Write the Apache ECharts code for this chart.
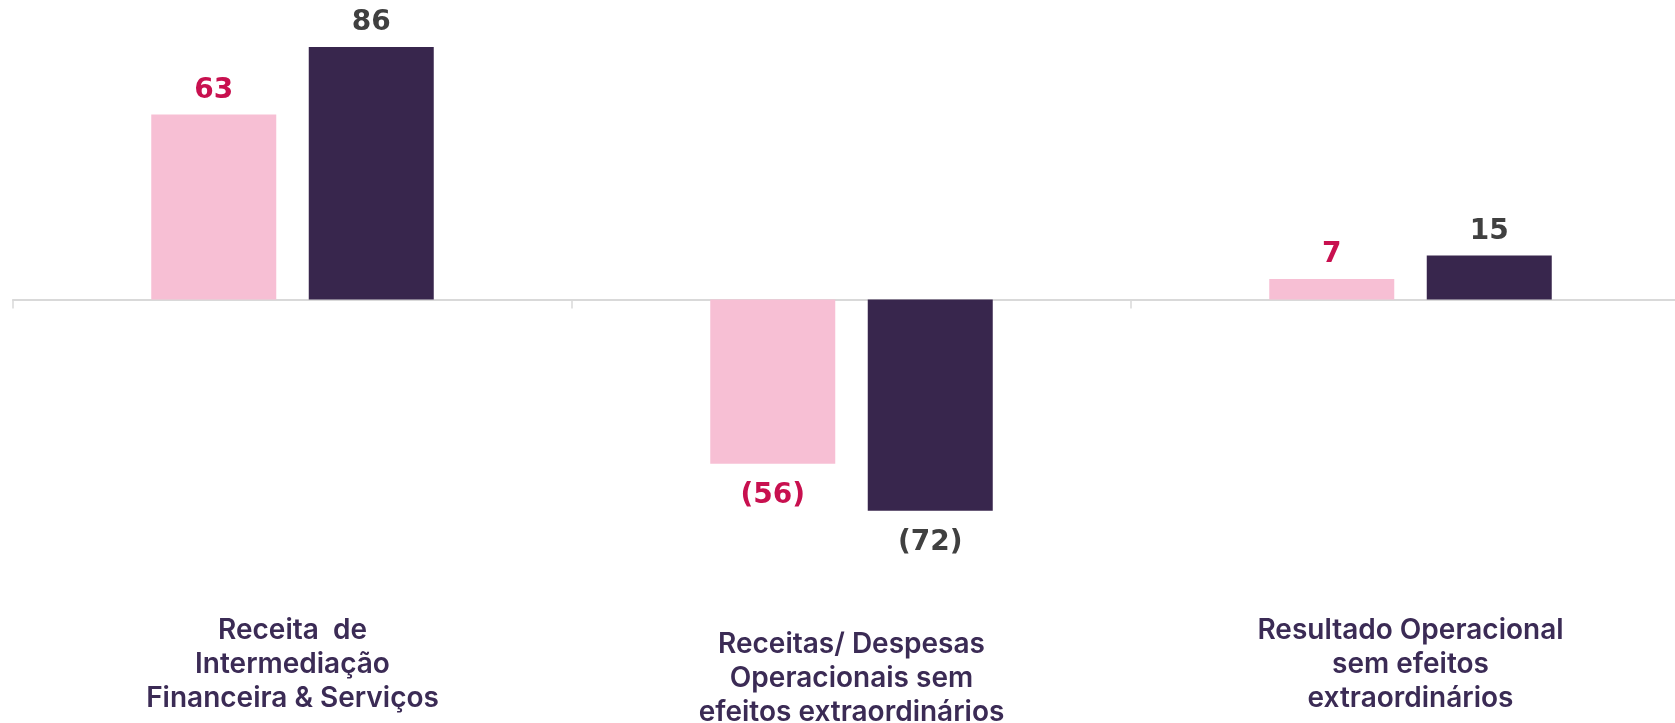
<!DOCTYPE html>
<html>
<head>
<meta charset="utf-8">
<script src="https://cdn.jsdelivr.net/npm/echarts@6/dist/echarts.min.js"></script>
<style>
html,body{margin:0;padding:0;background:#fff;}
#chart{width:1675px;height:723px;}
</style>
</head>
<body>
<div id="chart"></div>
<script>
const categories = [
  'Receita  de\nIntermediação\nFinanceira & Serviços',
  'Receitas/ Despesas\nOperacionais sem\nefeitos extraordinários',
  'Resultado Operacional\nsem efeitos\nextraordinários'
];
const seriesA = [63, -56, 7];
const seriesB = [86, -72, 15];
const labelOffsets = [0, 14, 0];

function fmt(v) { return v < 0 ? '(' + Math.abs(v) + ')' : String(v); }

function makeData(arr) {
  return arr.map(v => ({
    value: v,
    label: { position: v < 0 ? 'bottom' : 'top', distance: v < 0 ? 18 : 10 }
  }));
}

const chart = echarts.init(document.getElementById('chart'));
const valueLabel = (color) => ({
  show: true,
  formatter: p => fmt(p.value),
  color: color,
  fontFamily: 'DejaVu Sans',
  fontWeight: 'bold',
  fontSize: 28
});

chart.setOption({
  animation: false,
  grid: { left: 13, width: 1677, top: 6, height: 587, containLabel: false, outerBoundsMode: 'none' },
  xAxis: {
    type: 'category',
    data: categories,
    axisLine: { onZero: true, lineStyle: { color: '#D9D9D9', width: 2 } },
    axisTick: { show: true, length: 9, lineStyle: { color: '#D9D9D9', width: 1.5 } },
    axisLabel: {
      interval: 0,
      margin: 21,
      formatter: (val, idx) => {
        const lines = val.split('\n').map(l => '{t|' + l + '}');
        const pre = labelOffsets[idx] ? '{sp| }\n' : '';
        return pre + lines.join('\n');
      },
      rich: {
        t: {
          fontFamily: 'Inter',
          fontWeight: 600,
          fontSize: 28,
          lineHeight: 34,
          color: '#3B2B55',
          align: 'center'
        },
        sp: { fontSize: 4, lineHeight: 14 }
      }
    },
    splitLine: { show: false }
  },
  yAxis: {
    type: 'value',
    min: -100,
    max: 100,
    show: false,
    splitLine: { show: false }
  },
  series: [
    {
      type: 'bar',
      data: makeData(seriesA),
      barWidth: 125,
      barGap: '26%',
      itemStyle: { color: '#F7BFD4' },
      label: valueLabel('#C8104F')
    },
    {
      type: 'bar',
      data: makeData(seriesB),
      barWidth: 125,
      barGap: '26%',
      itemStyle: { color: '#38264D' },
      label: valueLabel('#404040')
    }
  ]
});
</script>
</body>
</html>
